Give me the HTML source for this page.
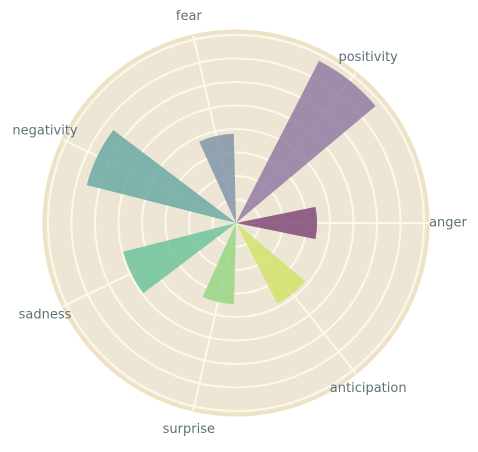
<!DOCTYPE html>
<html><head><meta charset="utf-8"><style>
html,body{margin:0;padding:0;background:#fff;}
svg text{font-family:"DejaVu Sans","Liberation Sans",sans-serif;font-size:13px;fill:#5f7178;}
</style></head><body>
<svg id="chart" width="478" height="447" viewBox="0 0 478 447" xmlns="http://www.w3.org/2000/svg">
<g id="bg"></g><g id="grid"></g><g id="bars"></g><g id="labels"></g>
</svg>
<script>
const categories = ["anger","positivity","fear","negativity","sadness","surprise","anticipation"];
const values = [3.45, 7.75, 3.8, 6.55, 4.95, 3.45, 3.85];
const colors = ["#7e4678","#9179a3","#7f94a8","#6aa8a2","#6cc49b","#96d583","#d2e26a"];
const gridTicks = [1,2,3,4,5,6,7,8];
const rMaxVal = 8.17;
const cx=236, cy=223, R=192;
const NS="http://www.w3.org/2000/svg";
const rScale=v=>v/rMaxVal*R;
const n=categories.length;
const angOf=i=>i*2*Math.PI/n;
const pt=(a,r)=>[cx+r*Math.cos(a), cy-r*Math.sin(a)];
function mk(tag,attrs,parent){const e=document.createElementNS(NS,tag);for(const k in attrs)e.setAttribute(k,attrs[k]);parent.appendChild(e);return e;}
const bg=document.getElementById('bg');
const bgc=mk('circle',{cx:cx,cy:cy,r:R,fill:'#ede6d4',stroke:'#efe2c2','stroke-width':3},bg);


const grid=document.getElementById('grid');
gridTicks.forEach(t=>{
  const c=mk('circle',{cx:cx,cy:cy,r:rScale(t),fill:'none',stroke:'#fdf8ea','stroke-width':2},grid);
  
  
});
const bars=document.getElementById('bars');
const w=0.4;
values.forEach((v,i)=>{
  const a=angOf(i), r=rScale(v);
  const p1=pt(a-w/2,r), p2=pt(a+w/2,r);
  const p=mk('path',{d:`M${cx},${cy}L${p1[0]},${p1[1]}A${r},${r} 0 0 0 ${p2[0]},${p2[1]}Z`,fill:colors[i],'fill-opacity':0.84},bars);
  
  
});
const labels=document.getElementById('labels');
categories.forEach((c,i)=>{
  const a=angOf(i); const e=pt(a,R);
  const l=mk('line',{x1:cx,y1:cy,x2:e[0],y2:e[1],stroke:'#fdf8ea','stroke-width':2},grid);
  
  
  const q=pt(a,212);
  const t=mk('text',{x:q[0],y:q[1]+3.5,'text-anchor':'middle'},labels);
  t.textContent=c;
  
  
});
</script>
</body></html>
